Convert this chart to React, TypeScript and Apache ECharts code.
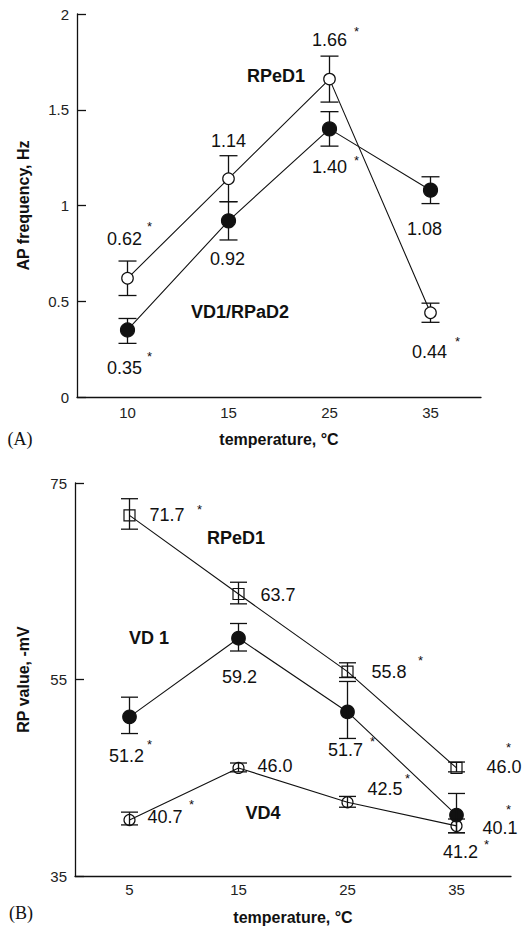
import React, { useEffect, useRef } from "react";
import * as echarts from "echarts";

// ---------- Panel A data ----------
const tempsA = ["10", "15", "25", "35"];
const rped1A = [0.62, 1.14, 1.66, 0.44];
const rped1ALow = [0.53, 1.02, 1.54, 0.39];
const rped1AHigh = [0.71, 1.26, 1.78, 0.49];
const rped1AText = ["0.62", "1.14", "1.66", "0.44"];
const rped1AStar = [true, false, true, true];
const vd1A = [0.35, 0.92, 1.4, 1.08];
const vd1ALow = [0.28, 0.82, 1.31, 1.01];
const vd1AHigh = [0.41, 1.02, 1.49, 1.15];
const vd1AText = ["0.35", "0.92", "1.40", "1.08"];
const vd1AStar = [true, false, true, false];
const yMinA = 0;
const yMaxA = 2;
const yStepA = 0.5;

// ---------- Panel B data ----------
const tempsB = ["5", "15", "25", "35"];
const rped1B = [71.7, 63.7, 55.8, 46.0];
const rped1BLow = [70.3, 62.7, 55.2, 45.6];
const rped1BHigh = [73.4, 64.9, 56.7, 46.6];
const rped1BText = ["71.7", "63.7", "55.8", "46.0"];
const rped1BStar = [true, false, true, true];
const vd1B = [51.2, 59.2, 51.7, 41.2];
const vd1BLow = [49.5, 57.9, 49.0, 39.4];
const vd1BHigh = [53.2, 60.7, 54.8, 43.4];
const vd1BText = ["51.2", "59.2", "51.7", "41.2"];
const vd1BStar = [true, false, true, true];
const vd4B = [40.7, 46.0, 42.5, 40.1];
const vd4BLow = [40.2, 45.6, 42.0, 39.4];
const vd4BHigh = [41.5, 46.5, 43.1, 40.8];
const vd4BText = ["40.7", "46.0", "42.5", "40.1"];
const vd4BStar = [true, false, true, true];
const yMinB = 35;
const yMaxB = 75;
const yStepB = 20;

// ---------- label layout (pixel offsets: dx, dy, align, starDx, starDy) ----------
type LL = [number, number, string, number, number];
const layRped1A: LL[] = [
  [-3, -39, "center", 25, -13],
  [0, -38, "center", 0, 0],
  [0, -39, "center", 27, -9],
  [-1, 39, "center", 28, -10],
];
const layVd1A: LL[] = [
  [-3, 38, "center", 25, -11],
  [-1, 38, "center", 0, 0],
  [0, 38, "center", 27, -6],
  [-6, 39, "center", 0, 0],
];
const layRped1B: LL[] = [
  [20, 0, "left", 50, -6],
  [22, 1, "left", 0, 0],
  [24, 0, "left", 49, -11],
  [30, -1, "left", 22, -19],
];
const layVd1B: LL[] = [
  [-3, 39, "center", 23, -11],
  [1, 39, "center", 0, 0],
  [-2, 38, "center", 27, -8],
  [4, 37, "center", 26, -8],
];
const layVd4B: LL[] = [
  [18, -3, "left", 44, -12],
  [19, -2, "left", 0, 0],
  [20, -13, "left", 40, -11],
  [26, 2, "left", 26, -18],
];

const FONT = '"Liberation Sans", Arial, Helvetica, sans-serif';
const INK = "#111";

function errSeries(idx: number, low: number[], high: number[], half: number, z: number) {
  return {
    type: "custom",
    xAxisIndex: idx,
    yAxisIndex: idx,
    z,
    silent: true,
    clip: false,
    data: low.map((l, i) => [i, l, high[i]]),
    encode: { x: 0, y: [1, 2] },
    renderItem: (params: any, api: any) => {
      const x = api.value(0);
      const pLo = api.coord([x, api.value(1)]);
      const pHi = api.coord([x, api.value(2)]);
      const st = { stroke: INK, lineWidth: 1.3 };
      return {
        type: "group",
        children: [
          { type: "line", shape: { x1: pLo[0], y1: pLo[1], x2: pHi[0], y2: pHi[1] }, style: st },
          { type: "line", shape: { x1: pLo[0] - half, y1: pLo[1], x2: pLo[0] + half, y2: pLo[1] }, style: st },
          { type: "line", shape: { x1: pHi[0] - half, y1: pHi[1], x2: pHi[0] + half, y2: pHi[1] }, style: st },
        ],
      };
    },
  };
}

function lineSeries(idx: number, values: number[], symbol: string, size: number, fill: string, z: number) {
  return {
    type: "line",
    xAxisIndex: idx,
    yAxisIndex: idx,
    data: values,
    z,
    symbol,
    symbolSize: size,
    showAllSymbol: true,
    lineStyle: { color: INK, width: 1.1 },
    itemStyle: { color: fill, borderColor: INK, borderWidth: 1.2, opacity: 1 },
    emphasis: { disabled: true },
    silent: true,
  };
}

function labelSeries(idx: number, values: number[], texts: string[], stars: boolean[], lay: LL[]) {
  return {
    type: "custom",
    xAxisIndex: idx,
    yAxisIndex: idx,
    z: 20,
    silent: true,
    clip: false,
    data: values.map((v, i) => [i, v]),
    encode: { x: 0, y: 1 },
    renderItem: (params: any, api: any) => {
      const i = params.dataIndex;
      const p = api.coord([api.value(0), api.value(1)]);
      const L = lay[i];
      const x = p[0] + L[0];
      const y = p[1] + L[1];
      const children: any[] = [
        {
          type: "text",
          x,
          y,
          style: { text: texts[i], fill: INK, fontSize: 18, fontFamily: FONT, align: L[2], verticalAlign: "middle" },
        },
      ];
      if (stars[i]) {
        children.push({
          type: "text",
          x: x + L[3],
          y: y + L[4],
          style: { text: "*", fill: INK, fontSize: 13, fontFamily: FONT, align: "center", verticalAlign: "middle" },
        });
      }
      return { type: "group", children };
    },
  };
}

function xAxisCfg(idx: number, data: string[]) {
  return {
    type: "category",
    gridIndex: idx,
    data,
    boundaryGap: true,
    name: "temperature, °C",
    nameLocation: "middle",
    nameGap: idx === 0 ? 34 : 33,
    nameTextStyle: { fontFamily: FONT, fontSize: 16, fontWeight: "bold", color: INK },
    axisLine: { lineStyle: { color: INK, width: 1.3 } },
    axisTick: { inside: true, length: 8, lineStyle: { color: INK, width: 1.3 } },
    axisLabel: { fontFamily: FONT, fontSize: 15, color: "#222", margin: idx === 0 ? 8 : 6 },
    splitLine: { show: false },
  };
}

function yAxisCfg(idx: number, name: string, min: number, max: number, step: number, gap: number) {
  return {
    type: "value",
    gridIndex: idx,
    min,
    max,
    interval: step,
    name,
    nameLocation: "middle",
    nameGap: gap,
    nameRotate: 90,
    nameTextStyle: { fontFamily: FONT, fontSize: 16, fontWeight: "bold", color: INK },
    axisLine: { show: true, lineStyle: { color: INK, width: 1.3 } },
    axisTick: { show: true, inside: true, length: 9, lineStyle: { color: INK, width: 1.3 } },
    axisLabel: { fontFamily: FONT, fontSize: 15, color: "#222", margin: 8 },
    splitLine: { show: false },
  };
}

function annot(text: string, x: number, y: number, bold = true, family = FONT, size = 18) {
  return {
    type: "text",
    x,
    y,
    style: {
      text,
      fill: INK,
      fontSize: size,
      fontWeight: bold ? "bold" : "normal",
      fontFamily: family,
      align: "center",
      verticalAlign: "middle",
    },
  };
}

export default function App() {
  const ref = useRef<HTMLDivElement>(null);
  useEffect(() => {
    if (!ref.current) return;
    const chart = echarts.init(ref.current, null, { renderer: "svg" });
    chart.setOption({
      animation: false,
      backgroundColor: "#fff",
      grid: [
        { left: 77, top: 14, width: 404, height: 383 },
        { left: 75, top: 483, width: 436, height: 393 },
      ],
      xAxis: [xAxisCfg(0, tempsA), xAxisCfg(1, tempsB)],
      yAxis: [
        yAxisCfg(0, "AP frequency, Hz", yMinA, yMaxA, yStepA, 46),
        yAxisCfg(1, "RP value, -mV", yMinB, yMaxB, yStepB, 44),
      ],
      series: [
        // Panel A
        lineSeries(0, rped1A, "circle", 11.5, "#fff", 3),
        lineSeries(0, vd1A, "circle", 14, INK, 3),
        errSeries(0, rped1ALow, rped1AHigh, 9, 2),
        errSeries(0, vd1ALow, vd1AHigh, 9, 2),
        labelSeries(0, rped1A, rped1AText, rped1AStar, layRped1A),
        labelSeries(0, vd1A, vd1AText, vd1AStar, layVd1A),
        // Panel B
        lineSeries(1, rped1B, "rect", 11, "rgba(255,255,255,0)", 3),
        lineSeries(1, vd1B, "circle", 13.5, INK, 3),
        lineSeries(1, vd4B, "circle", 11, "rgba(255,255,255,0)", 3),
        errSeries(1, rped1BLow, rped1BHigh, 8.5, 4),
        errSeries(1, vd1BLow, vd1BHigh, 8.5, 4),
        errSeries(1, vd4BLow, vd4BHigh, 8.5, 4),
        labelSeries(1, rped1B, rped1BText, rped1BStar, layRped1B),
        labelSeries(1, vd1B, vd1BText, vd1BStar, layVd1B),
        labelSeries(1, vd4B, vd4BText, vd4BStar, layVd4B),
      ],
      graphic: [
        annot("RPeD1", 276, 76),
        annot("VD1/RPaD2", 240, 312),
        annot("RPeD1", 236, 538),
        annot("VD 1", 149, 638),
        annot("VD4", 263, 813),
        annot("(A)", 20, 439, false, '"Liberation Serif", "Times New Roman", serif', 18),
        annot("(B)", 21, 913, false, '"Liberation Serif", "Times New Roman", serif', 18),
      ],
    });
    return () => chart.dispose();
  }, []);
  return (
    <div
      ref={ref}
      style={{ position: "fixed", left: 0, top: 0, width: 529, height: 927, background: "#fff" }}
    />
  );
}
